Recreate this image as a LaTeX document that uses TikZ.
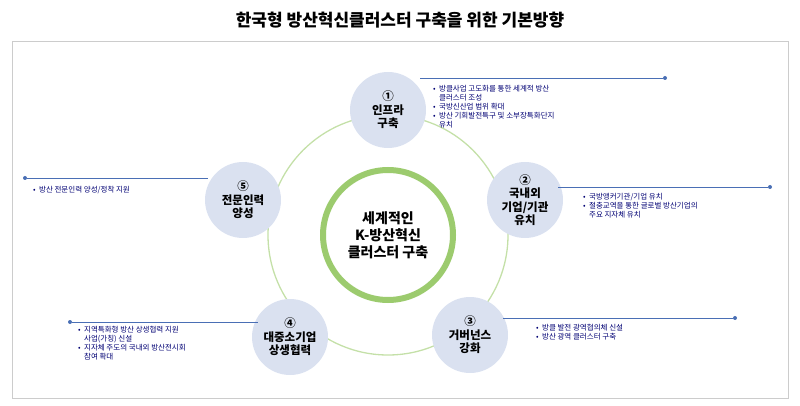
\documentclass[tikz,border=0pt]{standalone}
\usepackage{fontspec}
\setmainfont{Noto Sans CJK KR}
\definecolor{satc}{HTML}{DAE1F0}
\definecolor{ringc}{HTML}{9CCB6E}
\definecolor{linec}{HTML}{4A6FB5}
\begin{document}
\begin{tikzpicture}[x=1pt,y=-1pt,
  sat/.style={circle,fill=satc,minimum size=76pt,inner sep=0pt,align=center,font=\fontsize{11.5}{13.5}\selectfont\bfseries},
  bul/.style={anchor=north west,align=left,font=\fontsize{7.5}{9}\selectfont,text=blue!45!black,inner sep=0pt},
  ln/.style={draw=linec,line width=0.8pt},
  dot/.style={circle,fill=linec,inner sep=0pt,minimum size=4pt}]
\useasboundingbox (0,0) rectangle (800,406);
\node (title) at (400,20) {\fontsize{17}{20}\selectfont\bfseries 한국형 방산혁신클러스터 구축을 위한 기본방향};
\draw[gray!40,line width=1pt] (12,42) rectangle (788,398);
\draw[ringc!60,line width=1.3pt] (388,235) circle (120);
\node[circle,draw=ringc,line width=6pt,fill=white,minimum size=130pt,align=center,font=\fontsize{14}{17}\selectfont\bfseries] (c) at (388,235) {세계적인\\K-방산혁신\\클러스터 구축};
\node[sat] (s1) at (388,110) {①\\인프라\\구축};
\node[sat] (s2) at (525,200) {②\\국내외\\기업/기관\\유치};
\node[sat] (s3) at (470,335) {③\\거버넌스\\강화};
\node[sat] (s4) at (290,337) {④\\대중소기업\\상생협력};
\node[sat] (s5) at (243,200) {⑤\\전문인력\\양성};
\node[dot] (d1) at (665,78) {}; \coordinate (e1) at (420,78);
\draw[ln] (e1) -- (d1);
\node[dot] (d2) at (770,187) {}; \coordinate (e2) at (558,187);
\draw[ln] (e2) -- (d2);
\node[dot] (d3) at (735,318) {}; \coordinate (e3) at (503,318);
\draw[ln] (e3) -- (d3);
\node[dot] (d4) at (70,322) {}; \coordinate (e4) at (258,322);
\draw[ln] (d4) -- (e4);
\node[dot] (d5) at (25,178) {}; \coordinate (e5) at (208,178);
\draw[ln] (d5) -- (e5);
\node[bul] (t1) at (433,85) {•\ \ 방클사업 고도화를 통한 세계적 방산\\\phantom{•}\ \ 클러스터 조성\\•\ \ 국방신산업 범위 확대\\•\ \ 방산 기회발전특구 및 소부장특화단지\\\phantom{•}\ \ 유치};
\node[bul] (t2) at (583,193) {•\ \ 국방앵커기관/기업 유치\\•\ \ 절충교역을 통한 글로벌 방산기업의\\\phantom{•}\ \ 주요 지자체 유치};
\node[bul] (t3) at (536,324) {•\ \ 방클 발전 광역협의체 신설\\•\ \ 방산 광역 클러스터 구축};
\node[bul] (t4) at (78,326) {•\ \ 지역특화형 방산 상생협력 지원\\\phantom{•}\ \ 사업(가칭) 신설\\•\ \ 지자체 주도의 국내외 방산전시회\\\phantom{•}\ \ 참여 확대};
\node[bul] (t5) at (33,186) {•\ \ 방산 전문인력 양성/정착 지원};
\end{tikzpicture}
\end{document}
